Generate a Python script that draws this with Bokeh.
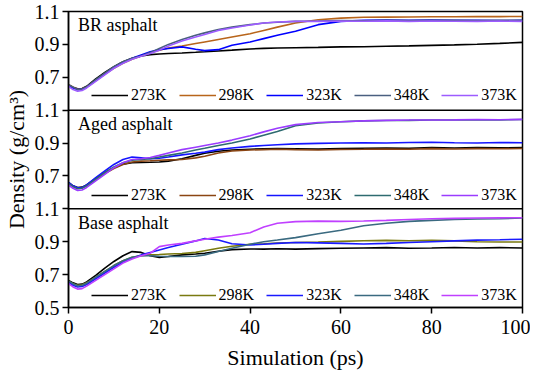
from bokeh.plotting import figure
from bokeh.models import Range1d, FixedTicker, Legend, LegendItem, Label, Span
from bokeh.embed import file_html
from bokeh.resources import INLINE

# ---------------- data ----------------
T = [0, 1, 2, 3, 4, 6, 8, 10, 12, 14, 16, 18, 20, 22, 25, 28, 30, 33, 36, 40,
     43, 46, 50, 55, 60, 65, 70, 75, 80, 85, 90, 95, 100]
temps = ["273K", "298K", "323K", "348K", "373K"]
y_ticks = [0.5, 0.7, 0.9, 1.1]
x_ticks = [0, 20, 40, 60, 80, 100]

br273 = [0.655, 0.64, 0.63, 0.632, 0.645, 0.69, 0.73, 0.765, 0.795, 0.815, 0.83, 0.838, 0.842, 0.845, 0.848, 0.852,
         0.855, 0.86, 0.865, 0.872, 0.876, 0.878, 0.88, 0.882, 0.885, 0.886, 0.889, 0.891, 0.894, 0.897, 0.901, 0.906, 0.912]
br298 = [0.655, 0.64, 0.628, 0.63, 0.64, 0.68, 0.72, 0.755, 0.785, 0.81, 0.83, 0.85, 0.865, 0.878, 0.89, 0.905,
         0.915, 0.93, 0.945, 0.965, 0.985, 1.005, 1.03, 1.05, 1.06, 1.065, 1.066, 1.067, 1.068, 1.068, 1.07, 1.069, 1.07]
br323 = [0.65, 0.635, 0.625, 0.628, 0.64, 0.68, 0.72, 0.76, 0.79, 0.815, 0.835, 0.855, 0.868, 0.875, 0.885, 0.87,
         0.862, 0.868, 0.895, 0.915, 0.935, 0.955, 0.98, 1.02, 1.04, 1.046, 1.048, 1.047, 1.048, 1.046, 1.047, 1.045, 1.046]
br348 = [0.655, 0.64, 0.625, 0.628, 0.642, 0.685, 0.725, 0.765, 0.795, 0.815, 0.83, 0.85, 0.875, 0.9, 0.93, 0.955,
         0.97, 0.99, 1.005, 1.02, 1.03, 1.035, 1.04, 1.042, 1.045, 1.044, 1.046, 1.045, 1.047, 1.046, 1.045, 1.047, 1.046]
br373 = [0.645, 0.625, 0.615, 0.62, 0.635, 0.675, 0.715, 0.755, 0.785, 0.81, 0.828, 0.845, 0.865, 0.89, 0.92, 0.945,
         0.96, 0.985, 1.0, 1.018, 1.03, 1.036, 1.04, 1.04, 1.042, 1.041, 1.043, 1.04, 1.042, 1.041, 1.04, 1.042, 1.04]

ag273 = [0.66, 0.64, 0.63, 0.632, 0.645, 0.685, 0.72, 0.75, 0.772, 0.78, 0.782, 0.783, 0.785, 0.79, 0.805, 0.825,
         0.838, 0.85, 0.858, 0.862, 0.865, 0.866, 0.865, 0.863, 0.866, 0.868, 0.87, 0.868, 0.872, 0.87, 0.872, 0.871, 0.873]
ag298 = [0.655, 0.635, 0.625, 0.628, 0.64, 0.678, 0.715, 0.745, 0.77, 0.785, 0.79, 0.792, 0.795, 0.798, 0.8, 0.81,
         0.82, 0.84, 0.852, 0.858, 0.86, 0.862, 0.86, 0.858, 0.861, 0.862, 0.864, 0.862, 0.866, 0.864, 0.866, 0.865, 0.867]
ag323 = [0.66, 0.64, 0.628, 0.63, 0.645, 0.69, 0.73, 0.77, 0.8, 0.815, 0.81, 0.805, 0.808, 0.815, 0.828, 0.838,
         0.845, 0.86, 0.87, 0.88, 0.885, 0.89, 0.895, 0.898, 0.9, 0.902, 0.9, 0.903, 0.905, 0.902, 0.9, 0.903, 0.902]
ag348 = [0.655, 0.635, 0.622, 0.625, 0.64, 0.68, 0.72, 0.755, 0.78, 0.795, 0.8, 0.805, 0.815, 0.825, 0.84, 0.858,
         0.868, 0.885, 0.9, 0.925, 0.948, 0.97, 1.005, 1.022, 1.03, 1.035, 1.037, 1.038, 1.04, 1.04, 1.042, 1.041, 1.043]
ag373 = [0.645, 0.625, 0.612, 0.615, 0.63, 0.67, 0.71, 0.75, 0.78, 0.8, 0.805, 0.812, 0.825, 0.84, 0.86, 0.875,
         0.885, 0.9, 0.918, 0.945, 0.968, 0.99, 1.012, 1.025, 1.03, 1.035, 1.038, 1.04, 1.04, 1.041, 1.043, 1.042, 1.044]

bs273 = [0.665, 0.65, 0.64, 0.642, 0.655, 0.695, 0.74, 0.78, 0.815, 0.84, 0.835, 0.815, 0.805, 0.81, 0.82, 0.825,
         0.83, 0.842, 0.852, 0.856, 0.855, 0.857, 0.855, 0.858, 0.86, 0.862, 0.864, 0.86, 0.862, 0.865, 0.862, 0.864, 0.862]
bs298 = [0.66, 0.645, 0.635, 0.638, 0.65, 0.685, 0.72, 0.755, 0.785, 0.805, 0.815, 0.82, 0.822, 0.825, 0.828, 0.835,
         0.845, 0.86, 0.872, 0.885, 0.888, 0.892, 0.895, 0.898, 0.902, 0.906, 0.908, 0.906, 0.908, 0.905, 0.9, 0.898, 0.898]
bs323 = [0.655, 0.635, 0.625, 0.628, 0.64, 0.675, 0.71, 0.745, 0.775, 0.8, 0.82, 0.835, 0.85, 0.865, 0.885, 0.905,
         0.92, 0.91, 0.888, 0.88, 0.885, 0.89, 0.895, 0.893, 0.89, 0.886, 0.89, 0.895, 0.9, 0.905, 0.91, 0.912, 0.915]
bs348 = [0.66, 0.645, 0.632, 0.635, 0.648, 0.685, 0.72, 0.755, 0.785, 0.805, 0.815, 0.815, 0.812, 0.81, 0.81, 0.812,
         0.82, 0.84, 0.86, 0.885, 0.9, 0.91, 0.925, 0.948, 0.97, 0.997, 1.012, 1.024, 1.03, 1.035, 1.038, 1.04, 1.044]
bs373 = [0.645, 0.625, 0.612, 0.615, 0.63, 0.665, 0.7, 0.735, 0.77, 0.795, 0.815, 0.83, 0.87, 0.88, 0.89, 0.905,
         0.915, 0.928, 0.938, 0.955, 0.99, 1.012, 1.022, 1.025, 1.024, 1.026, 1.03, 1.035, 1.04, 1.042, 1.044, 1.045, 1.046]

# panels from top to bottom
panels = [
    ("BR asphalt", [br273, br298, br323, br348, br373],
     ["#000000", "#b8651b", "#0000ff", "#4a5f80", "#9d5cff"]),
    ("Aged asphalt", [ag273, ag298, ag323, ag348, ag373],
     ["#000000", "#8b4513", "#1515ff", "#2e6b70", "#9b3cff"]),
    ("Base asphalt", [bs273, bs298, bs323, bs348, bs373],
     ["#000000", "#7a7a10", "#1a1aff", "#3a6a80", "#c040ff"]),
]

FONT = "'Liberation Serif', serif"
lo, hi = y_ticks[0], y_ticks[-1]
span = hi - lo
n = len(panels)

TOP, FRAME_H, BOTTOM = 11, 300, 61
p = figure(width=530, height=TOP + FRAME_H + BOTTOM, x_range=Range1d(0, 100),
           y_range=Range1d(lo, lo + n * span),
           output_backend="svg", toolbar_location=None, tools="")
p.min_border_left = 64
p.min_border_right = 8
p.min_border_top = TOP
p.min_border_bottom = BOTTOM
p.grid.visible = False
p.outline_line_color = "black"
p.outline_line_width = 1.5

# one shared left axis: labels of each stacked panel
ticks, overrides = [], {}
for k in range(n):          # k = 0 bottom panel
    for j, tv in enumerate(y_ticks):
        if k > 0 and j == 0:
            continue
        pos = round(tv + k * span, 6)
        ticks.append(pos)
        overrides[pos] = f"{tv:.1f}"
ya = p.yaxis[0]
ya.ticker = FixedTicker(ticks=ticks)
ya.major_label_overrides = overrides
ya.minor_tick_line_color = None
ya.major_tick_in = 0
ya.major_tick_out = 6
ya.axis_line_width = 1.5
ya.major_tick_line_width = 1.5
ya.major_label_text_font = FONT
ya.major_label_text_font_size = "20px"
ya.major_label_text_color = "black"
ya.major_label_standoff = 3
ya.axis_label = "Density (g/cm³)"
ya.axis_label_text_font = FONT
ya.axis_label_text_font_size = "22px"
ya.axis_label_text_font_style = "normal"
ya.axis_label_text_color = "black"
ya.axis_label_standoff = 3

xa = p.xaxis[0]
xa.ticker = FixedTicker(ticks=x_ticks)
xa.minor_tick_line_color = None
xa.major_tick_in = 0
xa.major_tick_out = 6
xa.axis_line_width = 1.5
xa.major_tick_line_width = 1.5
xa.major_label_text_font = FONT
xa.major_label_text_font_size = "20px"
xa.major_label_text_color = "black"
xa.major_label_standoff = 6
xa.axis_label = "Simulation (ps)"
xa.axis_label_text_font = FONT
xa.axis_label_text_font_size = "22px"
xa.axis_label_text_font_style = "normal"
xa.axis_label_text_color = "black"
xa.axis_label_standoff = 8

# panel separators
for k in range(1, n):
    p.add_layout(Span(location=lo + k * span, dimension="width",
                      line_color="black", line_width=1.5))

p.extra_y_ranges = {}
for idx, (name, series, colors) in enumerate(panels):
    k = n - 1 - idx              # stack position from bottom
    rname = f"panel{k}"
    p.extra_y_ranges[rname] = Range1d(lo - k * span, lo + (n - k) * span)
    items = []
    for lab, ys, c in zip(temps, series, colors):
        r = p.line(T, ys, line_color=c, line_width=1.6, y_range_name=rname)
        items.append(LegendItem(label=lab, renderers=[r]))
    leg = Legend(items=items, location=(23, 3 + k * FRAME_H / n), orientation="horizontal",
                 glyph_width=37, glyph_height=16, label_height=16, label_standoff=3,
                 spacing=12, padding=0, margin=0,
                 label_text_font=FONT, label_text_font_size="16px", label_text_color="black",
                 background_fill_alpha=0, border_line_color=None)
    p.add_layout(leg)
    p.add_layout(Label(x=2.1, y=1.015, y_range_name=rname, text=name,
                       text_font=FONT, text_font_size="18px",
                       text_baseline="middle", text_color="black"))

open("out.html", "w").write(file_html(p, INLINE))
